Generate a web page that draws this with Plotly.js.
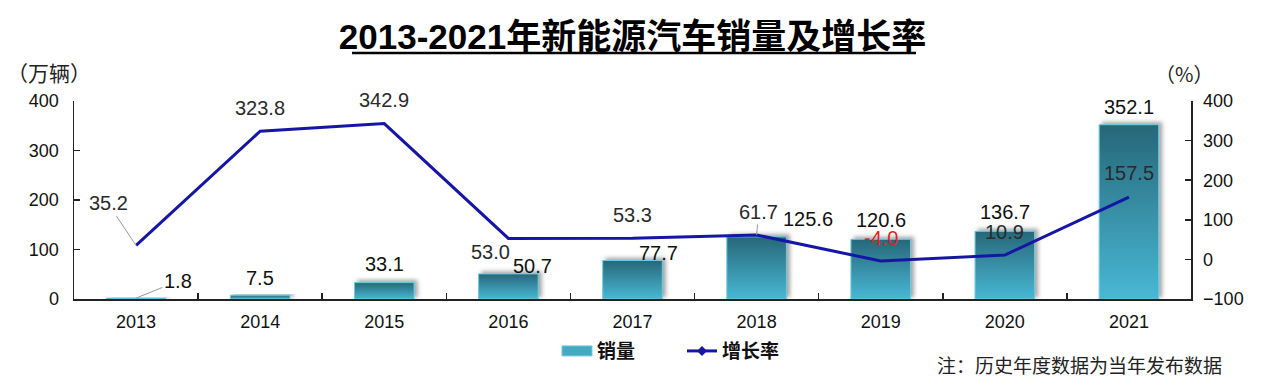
<!DOCTYPE html>
<html><head><meta charset="utf-8">
<script src="https://cdn.plot.ly/plotly-3.0.1.min.js"></script>
<style>html,body{margin:0;padding:0;background:#fff;}#chart{width:1274px;height:391px;}</style>
</head><body><div id="chart"></div>
<script>
// ---- data ----
const years = ['2013','2014','2015','2016','2017','2018','2019','2020','2021'];
const sales = [1.8, 7.5, 33.1, 50.7, 77.7, 125.6, 120.6, 136.7, 352.1];      // 万辆
const growth = [35.2, 323.8, 342.9, 53.0, 53.3, 61.7, -4.0, 10.9, 157.5];   // %
const salesTicks = [0, 100, 200, 300, 400];
const growthTicks = [-100, 0, 100, 200, 300, 400];
const salesName = '销量';
const growthName = '增长率';
const titleText = '2013-2021年新能源汽车销量及增长率';
const leftUnit = '（万辆）';
const rightUnit = '（%）';
const noteText = '注：历史年度数据为当年发布数据';

// category positions on the x axis
const xi = years.map(function (_, i) { return i; });
const boundaries = years.slice(1).map(function (_, i) { return i + 0.5; });

// ---- label placement (pixel offsets: [dx, up, leaderLine]) ----
const salesLabelOffset = [[42,17,true],[0,17],[0,19],[24,8],[26,8],[51,18],[0,19],[0,19],[0,18]];
const growthLabelOffset = [[-28,42,true],[0,23],[0,24],[-18,-14],[0,23],[2,23,true],[0,23],[0,23],[0,24]];

const LBL = 'Liberation Sans, Arial, sans-serif';
const CJK = 'Noto Sans CJK SC, sans-serif';
const lineColor = '#1616a6';

function lab(x, y, yref, txt, off, color) {
  const dx = off[0], up = off[1], arrow = off[2];
  const a = {x: x, y: y, xref: 'x', yref: yref, text: txt,
    font: {family: LBL, size: 20, color: color}, xanchor: 'center', yanchor: 'middle'};
  if (arrow) {
    Object.assign(a, {showarrow: true, ax: dx, ay: -up, arrowhead: 0, arrowwidth: 1,
      arrowcolor: '#9a9a9a', standoff: 0});
  } else {
    Object.assign(a, {showarrow: false, xshift: dx, yshift: up});
  }
  return a;
}

const annotations = [];
sales.forEach(function (v, i) { annotations.push(lab(xi[i], v, 'y', v.toFixed(1), salesLabelOffset[i], '#111')); });
growth.forEach(function (v, i) { annotations.push(lab(xi[i], v, 'y2', v.toFixed(1), growthLabelOffset[i], v < 0 ? '#e0231f' : '#2a2a2a')); });
annotations.push({text: leftUnit, xref: 'paper', yref: 'paper', x: -0.022, y: 1.1465, showarrow: false,
  xanchor: 'center', yanchor: 'middle', font: {family: CJK, size: 21, color: '#222'}});
annotations.push({text: rightUnit, xref: 'paper', yref: 'paper', x: 0.9937, y: 1.141, showarrow: false,
  xanchor: 'center', yanchor: 'middle', font: {family: CJK, size: 20, color: '#222'}});
annotations.push({text: noteText, xref: 'paper', yref: 'paper', x: 0.9006, y: -0.3333, showarrow: false,
  xanchor: 'center', yanchor: 'middle', font: {family: CJK, size: 19, color: '#222'}});

const data = [
  {type: 'bar', x: xi, y: sales, name: salesName, yaxis: 'y',
   marker: {color: '#3a9db7', line: {color: '#6ccbe2', width: 1}}, width: 0.48},
  {type: 'scatter', mode: 'lines', x: xi, y: growth, yaxis: 'y2', name: growthName,
   line: {color: lineColor, width: 3}}
];

function axisBase() {
  return {showline: true, linecolor: '#222', linewidth: 1.5, ticks: 'inside', ticklen: 6,
    tickcolor: '#222', tickwidth: 1.5, showgrid: false, zeroline: false,
    tickfont: {family: LBL, size: 18, color: '#111'}};
}

const layout = {
  width: 1274, height: 391,
  margin: {l: 74, r: 83, t: 101, b: 92, pad: 0},
  paper_bgcolor: '#fff', plot_bgcolor: 'rgba(0,0,0,0)',
  font: {family: LBL, color: '#111'},
  title: {text: '<b>' + titleText + '</b>',
    x: 0.5, xref: 'paper', xanchor: 'center',
    y: 0.905, yref: 'container', yanchor: 'middle',
    font: {family: 'Liberation Sans, Arial, Noto Sans CJK SC, sans-serif', size: 35, color: '#000'}},
  xaxis: Object.assign(axisBase(), {type: 'linear', range: [-0.5, years.length - 0.5],
    tickvals: xi, ticktext: years, ticklen: 0, tickangle: 0, ticklabelstandoff: 6,
    minor: {tickvals: boundaries, ticks: 'inside', ticklen: 6, tickcolor: '#222', tickwidth: 1.5, showgrid: false}}),
  yaxis: Object.assign(axisBase(), {range: [0, 400], tickvals: salesTicks, ticklabelstandoff: 10}),
  yaxis2: Object.assign(axisBase(), {range: [-100, 400], tickvals: growthTicks, overlaying: 'y',
    side: 'right', ticklabelstandoff: 7}),
  showlegend: true,
  legend: {orientation: 'h', x: 0.4324, xanchor: 'left', y: -0.263, yanchor: 'middle',
    font: {family: CJK, size: 19, color: '#111', weight: 'bold'}, bgcolor: 'rgba(0,0,0,0)',
    entrywidth: 80, entrywidthmode: 'pixels'},
  annotations: annotations,
  shapes: [{type: 'line', xref: 'paper', yref: 'paper', x0: 0.2489, x1: 0.7538, y0: 1.2424, y1: 1.2424,
    line: {color: '#000', width: 2.5}}]
};

Plotly.newPlot('chart', data, layout, {staticPlot: true, displayModeBar: false}).then(function (gd) {
  const ns = 'http://www.w3.org/2000/svg';
  const svg = gd.querySelector('.main-svg');
  let defs = svg.querySelector('defs');
  if (!defs) { defs = document.createElementNS(ns, 'defs'); svg.insertBefore(defs, svg.firstChild); }
  const grad = document.createElementNS(ns, 'linearGradient');
  grad.setAttribute('id', 'barGrad');
  grad.setAttribute('x1', '0'); grad.setAttribute('y1', '0'); grad.setAttribute('x2', '0'); grad.setAttribute('y2', '1');
  [['0', '#276779'], ['1', '#48b8d4']].forEach(function (s) {
    const st = document.createElementNS(ns, 'stop');
    st.setAttribute('offset', s[0]); st.setAttribute('stop-color', s[1]);
    grad.appendChild(st);
  });
  defs.appendChild(grad);
  const filt = document.createElementNS(ns, 'filter');
  filt.setAttribute('id', 'barShadow');
  filt.setAttribute('x', '-30%'); filt.setAttribute('y', '-30%');
  filt.setAttribute('width', '160%'); filt.setAttribute('height', '160%');
  const ds = document.createElementNS(ns, 'feDropShadow');
  ds.setAttribute('dx', '3'); ds.setAttribute('dy', '-2'); ds.setAttribute('stdDeviation', '2');
  ds.setAttribute('flood-color', '#555'); ds.setAttribute('flood-opacity', '0.55');
  filt.appendChild(ds);
  defs.appendChild(filt);
  gd.querySelectorAll('.barlayer .point path').forEach(function (p) {
    p.style.fill = 'url(#barGrad)';
    p.setAttribute('filter', 'url(#barShadow)');
  });
  const items = gd.querySelectorAll('.legend .traces');
  if (items[0]) {
    const p = items[0].querySelector('.legendpoints path');
    if (p) { p.setAttribute('d', 'M15,5H-15V-5H15Z'); p.style.fill = '#45a9c2'; }
  }
  if (items[1]) {
    const g = items[1].querySelector('.legendpoints');
    if (g) {
      const d = document.createElementNS(ns, 'path');
      d.setAttribute('d', 'M20,-5L25,0L20,5L15,0Z');
      d.setAttribute('fill', lineColor);
      g.appendChild(d);
    }
  }
});
</script>
</body></html>
